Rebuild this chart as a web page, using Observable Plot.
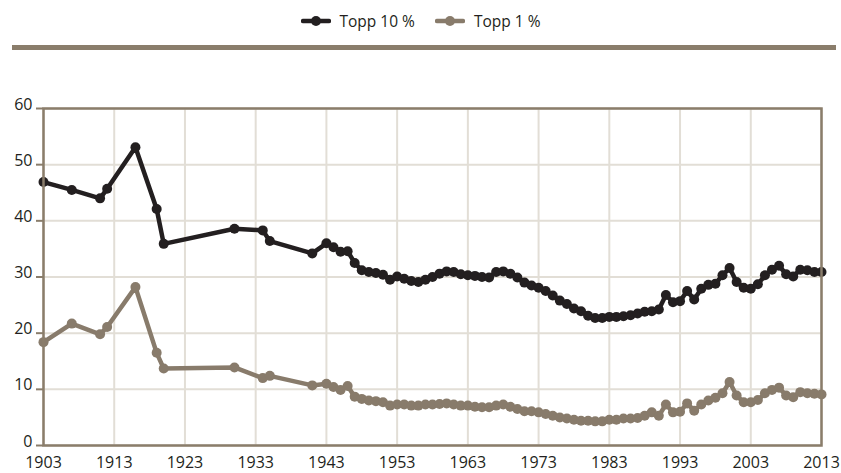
<!DOCTYPE html>
<html>
<head>
<meta charset="utf-8">
<script src="https://cdn.jsdelivr.net/npm/d3@7"></script>
<script src="https://cdn.jsdelivr.net/npm/@observablehq/plot@0.6"></script>
<style>
  body { margin: 0; background: #fff; font-family: "Open Sans", sans-serif; }
  #wrap { position: relative; width: 841px; height: 473px; overflow: hidden; }
  #legend { position: absolute; top: 10px; left: 0; width: 841px; display: flex; justify-content: center; gap: 20px; font-size: 15.5px; color: #231f20; }
  .item { display: flex; align-items: center; gap: 9px; }
  #band { position: absolute; left: 12px; top: 45px; width: 824px; height: 5px; background: #8a7d6b; }
  #chart { position: absolute; left: 0; top: 0; }
</style>
</head>
<body>
<div id="wrap">
  <div id="chart"></div>
  <div id="legend"></div>
  <div id="band"></div>
</div>
<script>
const years = [1903,1907,1911,1912,1916,1919,1920,1930,1934,1935,1941,1943,1944,1945,1946,
  1947,1948,1949,1950,1951,1952,1953,1954,1955,1956,1957,1958,1959,1960,
  1961,1962,1963,1964,1965,1966,1967,1968,1969,1970,1971,1972,1973,1974,1975,1976,1977,1978,1979,1980,
  1981,1982,1983,1984,1985,1986,1987,1988,1989,1990,1991,1992,1993,1994,1995,1996,1997,1998,1999,2000,
  2001,2002,2003,2004,2005,2006,2007,2008,2009,2010,2011,2012,2013];
const top10 = [46.9,45.5,44.0,45.7,53.1,42.1,35.9,38.6,38.3,36.4,34.2,36.0,35.3,34.5,34.6,
  32.5,31.2,30.9,30.7,30.4,29.5,30.1,29.7,29.3,29.1,29.5,30.0,30.6,31.0,
  30.9,30.5,30.3,30.2,30.0,29.9,30.9,31.0,30.6,29.9,29.0,28.5,28.1,27.5,26.7,25.8,25.2,24.4,23.9,23.1,
  22.7,22.7,22.9,22.9,23.0,23.2,23.5,23.8,23.9,24.2,26.8,25.5,25.7,27.5,26.0,27.9,28.6,28.8,30.3,31.6,
  29.1,28.1,27.9,28.7,30.3,31.3,32.0,30.5,30.1,31.3,31.2,30.9,30.9];
const top1 = [18.4,21.7,19.8,21.1,28.2,16.5,13.7,13.9,12.0,12.4,10.7,11.0,10.4,9.9,10.6,
  8.7,8.3,8.0,7.9,7.7,7.1,7.3,7.3,7.1,7.1,7.3,7.3,7.4,7.5,
  7.3,7.1,7.1,6.9,6.8,6.8,7.1,7.3,6.9,6.5,6.1,6.1,5.9,5.6,5.3,5.0,4.8,4.6,4.4,4.4,
  4.3,4.3,4.6,4.6,4.8,4.8,4.9,5.3,5.9,5.3,7.3,5.9,6.0,7.5,6.2,7.3,8.0,8.5,9.3,11.3,
  8.9,7.7,7.7,8.1,9.3,9.9,10.3,8.9,8.6,9.5,9.3,9.2,9.1];
const seriesNames = ["Topp 10 %", "Topp 1 %"];
const seriesColors = ["#231f20", "#887b6b"];
const xTicks = [1903,1913,1923,1933,1943,1953,1963,1973,1983,1993,2003,2013];
const yTicks = [0,10,20,30,40,50,60];

const rows = [];
years.forEach((y, i) => {
  rows.push({year: y, value: top10[i], series: seriesNames[0]});
});
years.forEach((y, i) => {
  rows.push({year: y, value: top1[i], series: seriesNames[1]});
});

const brown = "#8a7d6b";
const grid = "#e2ded6";

const chart = Plot.plot({
  width: 841,
  height: 473,
  marginTop: 108,
  marginBottom: 28,
  marginLeft: 43,
  marginRight: 20,
  style: { fontFamily: "Open Sans, sans-serif", fontSize: "16px", color: "#231f20", background: "transparent" },
  x: { domain: [1903, 2013], ticks: xTicks, tickFormat: d => String(d) },
  y: { domain: [0, 60], ticks: yTicks },
  color: { domain: seriesNames, range: seriesColors },
  marks: [
    Plot.gridX(xTicks, { stroke: grid, strokeWidth: 2, strokeOpacity: 1 }),
    Plot.gridY(yTicks, { stroke: grid, strokeWidth: 2, strokeOpacity: 1 }),
    Plot.axisX(xTicks, { tickSize: 0, tickPadding: 11, fontSize: 16, fill: "#231f20", label: null, tickFormat: d => String(d) }),
    Plot.axisY(yTicks, { tickSize: 7, stroke: brown, strokeWidth: 2, fill: "none", label: null }),
    Plot.axisY(yTicks, { tickSize: 0, tickPadding: 11, fontSize: 16, fill: "#231f20", label: null, dy: -4 }),
    Plot.line(rows, { x: "year", y: "value", z: "series", stroke: "series", strokeWidth: 4.5, strokeLinejoin: "round" }),
    Plot.dot(rows, { x: "year", y: "value", fill: "series", r: 5 }),
    Plot.frame({ stroke: brown, strokeWidth: 2.5 })
  ]
});
document.getElementById("chart").appendChild(chart);

const legend = document.getElementById("legend");
seriesNames.forEach((name, i) => {
  const item = document.createElement("div");
  item.className = "item";
  item.innerHTML = `<svg width="30" height="12"><line x1="2" y1="6" x2="28" y2="6" stroke="${seriesColors[i]}" stroke-width="4.5" stroke-linecap="round"/><circle cx="15" cy="6" r="5" fill="${seriesColors[i]}"/></svg><span>${name}</span>`;
  legend.appendChild(item);
});
</script>
</body>
</html>
